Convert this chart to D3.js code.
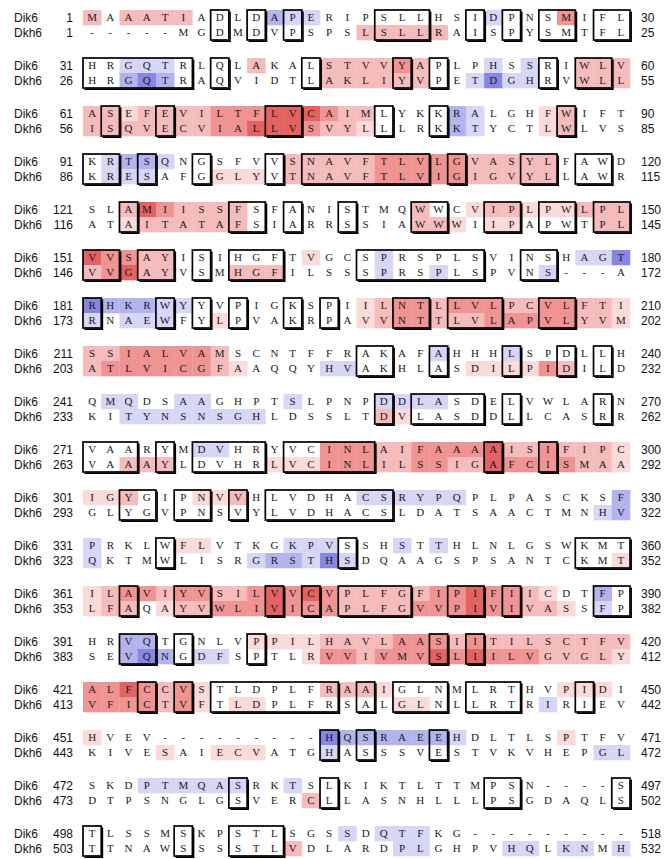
<!DOCTYPE html>
<html><head><meta charset="utf-8">
<script src="https://cdn.jsdelivr.net/npm/d3@7"></script>
<style>body{margin:0;background:#fff}</style>
</head><body>
<script>
const names = ["Dik6", "Dkh6"];
const dik6Start = [1,31,61,91,121,151,181,211,241,271,301,331,361,391,421,451,472,498];
const dik6End   = [30,60,90,120,150,180,210,240,270,300,330,360,390,420,450,471,497,518];
const dkh6Start = [1,26,56,86,116,146,173,203,233,263,293,323,353,383,413,443,473,503];
const dkh6End   = [25,55,85,115,145,172,202,232,262,292,322,352,382,412,442,472,502,532];
const dik6Seq = [
 "MAAATIADLDAPERIPSLLHSIDPNSMIFL","HRGQTRLQLAKALSTVVYAPLPHSSRIWLV","ASEFEVILTFLVCAIMLYKKRALGHFWIFT",
 "KRTSQNGSFVVSNAVFTLVLGVASYLFAWD","SLAMIISSFSFANISTMQWWCVIPLPWLPL","VVSAYISIHGFTVGCSPRSPLSVINSHAGT",
 "RHKRWYYVPIGKSPIILNTLLVLPCVLFTI","SSIALVAMSCNTFFRAKAFAHHHLSPDLLH","QMQDSAAGHPTSLPNPDDLASDELVWLARN",
 "VAARYMDVHRYVCINLAIFAAAAISIFIPC","IGYGIPNVVHLVDHACSRYPQPLPASCKSF","PRKLWFLVTKGKPVSSHSTTHLNLGSWKMT",
 "ILAVIYVSILVVCVPLFGFIPIFIICDTFP","HRVQTGNLVPPILHAVLAASIITILSCTFV","ALFCCVSTLDPLFRAAIGLNMLRTHVPIDI",
 "HVEV---------HQSRAEEHDLTLSPTFV","SKDPTMQASRKTSLKIKTLTTMPSN----S","TLSSMSKPSTLSGSSDQTFKG---------"];
const dkh6Seq = [
 "-----MGDMDVPSPSLSLLRAISPYSMTFL","HRGQTRAQVIDTLAKLIYVPETDGHRVWLL","ISQVECVIALLVSVYLLLRKKTYCTLWLVS",
 "KRESAFGGLYVTNAVFTLVIGIGVYLLAWR","ATAITATAFSIARRSSIAWWWIIPAPWTPL","VVGAYVSMHGFILSSSPRSPLSPVNS---A",
 "RNAEWFYLPVAKRPAVVNTTLVLAPVLYVM","ATLVICGFAAQQYHVAKHLASDILPIDILD","KITYNSNSGHLDSSLTDVLASDDLLCASRR",
 "VAAAYLDVHRLVCINLILSSIGAFCISMAA","GLYGVPNSVYLVDHACSLDATSAACTMNHV","QKTMWLISRGRSTHSDQAAGSPSANTCKMT",
 "LFAQAYVWLIVICAPLFGVVPIVIVASSFP","SEVQNGDFSPTLRVVIVMVSLIILVGVGLY","VFICTVFTLDPLFRSALGLNLLRTRIRIEV",
 "KIVESAIECVATGHASSSVESTVKVHEPGL","DTPSNGLGSVERCLLASNHLLLPSGDAQLS","TTNAWSSSSTLVDLARDPLGHPVHQLKNMH"];
// shading level per residue: 1-4 red (hydrophobic), a-c blue, '.' none
const dik6Shade = [
 "2.2222.... baa....... ..a...3...","..aaa....2 ...222232. ..a.a..222","2212222333 444322.... ba...12...",
 ".abba..... .222223333 322222....","..2432222. ........2. .122111222","43322..... ..1...a... .......aac",
 "cbbbaa.... .....12332 3332233221","22333332.. .........a ...a......",".aa..aa... .a....aaaa ..........",
 "......aa.. ...3332233 3342232221","112...112. .....aaaaa a........b","a....11... .aaa...a.a ..........",
 "1233233223 4343222223 343321..b.","..bb.....1 1112222333 2322222222","3343231... ...2221... ......111.",
 "1......... ...cbbbbbb a.....1...","...aaaaaa. .a........ ..........",".......... ....a.aaa. .........."];
const dkh6Shade = [
 ".......... .....22222 ..........","..bcb..... ...222222. .acaa..222","2222222334 443221.... ba...12...",
 ".aaa...111 .222223333 322222....","..1222222. ........22 1.11....22","23422...22 2.....a..a .....a....",
 "a.aaa..1.. .....12332 2233333221","233333321. ...aa..... .111132...","..aaaaaaaa ......21.. ..........",
 "..222..... 1113332233 2243333221",".......... .......... ........ab","a........a bbaca..... .........1",
 "122.122333 4333222233 3433221.a.","..bcb.aa.. ..13323334 3433322221","3333231.11 .......11. .....a....",
 "....1..111 ...a...... ........aa",".......... ..2....... ..........",".......... .2.....aa. ...aa.aa.a"];

const shadeColor = {"1":"#fbdada","2":"#f6bcbc","3":"#ef9393","4":"#e46262",
                    "a":"#d6d6f6","b":"#b3b3ee","c":"#8787e3"};

const W = 667, H = 859;
const svg = d3.select("body").append("svg").attr("width", W).attr("height", H);

const nBlocks = dik6Seq.length;
const blockY = d3.scaleBand().domain(d3.range(nBlocks)).range([10, 10 + 48 * nBlocks]).paddingInner(0);
const rowY = d3.scaleBand().domain([0, 1]).range([0, 30]);
const colX = d3.scaleBand().domain(d3.range(30)).range([83, 630]);

const blocks = d3.range(nBlocks).map(i => ({
  i,
  rows: [
    {name: names[0], seq: dik6Seq[i], shade: dik6Shade[i].replace(/ /g, ""), start: dik6Start[i], end: dik6End[i]},
    {name: names[1], seq: dkh6Seq[i], shade: dkh6Shade[i].replace(/ /g, ""), start: dkh6Start[i], end: dkh6End[i]}
  ]
}));

const gB = svg.selectAll("g.block").data(blocks).join("g")
  .attr("class", "block").attr("transform", d => `translate(0,${blockY(d.i)})`);

const gR = gB.selectAll("g.row").data(d => d.rows.map((r, k) => ({...r, k}))).join("g")
  .attr("class", "row").attr("transform", d => `translate(0,${rowY(d.k)})`);

const rh = rowY.bandwidth();
gR.selectAll("rect.cell").data(d => d.shade.split("").map((s, c) => ({s, c})).filter(e => e.s !== "."))
  .join("rect").attr("class", "cell")
  .attr("x", e => colX(e.c)).attr("y", 0)
  .attr("width", colX.bandwidth() + 0.3).attr("height", rh + 0.3)
  .attr("fill", e => shadeColor[e.s]);

gR.selectAll("text.res").data(d => d.seq.split("").map((ch, c) => ({ch, c})))
  .join("text").attr("class", "res")
  .attr("x", e => colX(e.c) + colX.bandwidth() / 2).attr("y", rh / 2)
  .attr("dy", "0.36em").attr("text-anchor", "middle")
  .attr("font-family", "'Liberation Serif', 'DejaVu Serif', serif").attr("font-size", 11)
  .attr("fill", "#1a1a1a").text(e => e.ch);

const sans = "'Liberation Sans', Arial, sans-serif";
gR.append("text").attr("x", 14).attr("y", rh / 2).attr("dy", "0.36em")
  .attr("font-family", sans).attr("font-size", 12).attr("fill", "#111").text(d => d.name);
gR.append("text").attr("x", 73).attr("y", rh / 2).attr("dy", "0.36em").attr("text-anchor", "end")
  .attr("font-family", sans).attr("font-size", 12).attr("fill", "#111").text(d => d.start);
gR.append("text").attr("x", 641).attr("y", rh / 2).attr("dy", "0.36em")
  .attr("font-family", sans).attr("font-size", 12).attr("fill", "#111").text(d => d.end);

function runs(a, b) {
  const out = []; let s = -1;
  for (let c = 0; c <= a.length; c++) {
    const same = c < a.length && a[c] === b[c] && a[c] !== "-";
    if (same && s < 0) s = c;
    if (!same && s >= 0) { out.push({s, e: c - 1}); s = -1; }
  }
  return out;
}
const boxH = 30;
gB.each(function(d) {
  const g = d3.select(this);
  runs(d.rows[0].seq, d.rows[1].seq).forEach(r => {
    const x0 = colX(r.s), x1 = colX(r.e) + colX.bandwidth();
    g.append("path")
      .attr("d", `M${x1 + 1.2},${1.5} L${x1 + 1.2},${boxH + 1.2} L${x0 + 1.5},${boxH + 1.2}`)
      .attr("fill", "none").attr("stroke", "#000").attr("stroke-width", 1.5);
    g.append("rect").attr("x", x0).attr("y", 0).attr("width", x1 - x0).attr("height", boxH)
      .attr("fill", "none").attr("stroke", "#000").attr("stroke-width", 1.7);
  });
});
</script>
</body></html>
